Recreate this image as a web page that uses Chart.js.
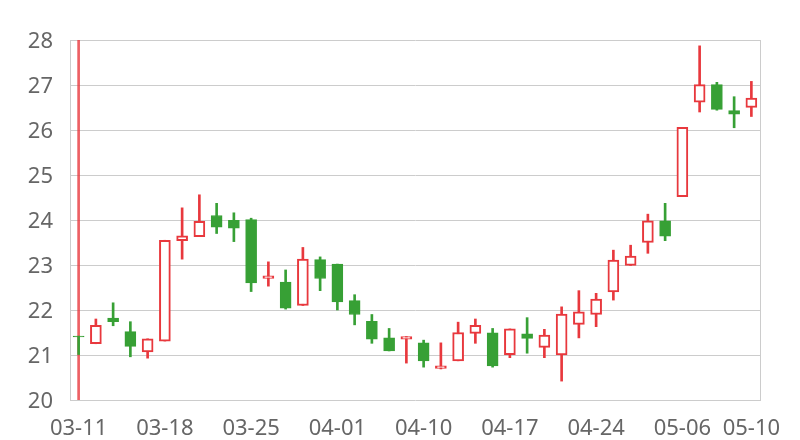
<!DOCTYPE html>
<html>
<head>
<meta charset="utf-8">
<script src="https://cdn.jsdelivr.net/npm/chart.js@4"></script>
<style>
  html, body { margin: 0; padding: 0; background: #fff; }
  #wrap { width: 800px; height: 440px; }
</style>
</head>
<body>
<div id="wrap"><canvas id="kline"></canvas></div>
<script>
var dates = [
    '03-11', '03-12', '03-13', '03-14', '03-15', '03-18', '03-19', '03-20', '03-21', '03-22',
    '03-25', '03-26', '03-27', '03-28', '03-29', '04-01', '04-02', '04-03', '04-08', '04-09',
    '04-10', '04-11', '04-12', '04-15', '04-16', '04-17', '04-18', '04-19', '04-22', '04-23',
    '04-24', '04-25', '04-26', '04-29', '04-30', '05-06', '05-07', '05-08', '05-09', '05-10'
];
var openValues = [
    21.42, 21.25, 21.82, 21.52, 21.07, 21.31, 23.54, 23.63, 24.10, 23.99,
    24.01, 22.70, 22.62, 22.10, 23.12, 23.02, 22.21, 21.75, 21.38, 21.35,
    21.27, 20.70, 20.87, 21.48, 21.49, 21.01, 21.47, 21.17, 21.00, 21.68,
    21.90, 22.40, 22.99, 23.50, 23.98, 24.52, 26.62, 27.01, 26.43, 26.50
];
var closeValues = [
    21.40, 21.66, 21.74, 21.19, 21.36, 23.55, 23.65, 23.97, 23.84, 23.82,
    22.60, 22.76, 22.04, 23.13, 22.70, 22.18, 21.90, 21.35, 21.09, 21.41,
    20.87, 20.76, 21.50, 21.66, 20.76, 21.58, 21.37, 21.44, 21.91, 21.96,
    22.24, 23.11, 23.20, 23.98, 23.64, 26.06, 27.01, 26.46, 26.35, 26.71
];
var lowValues = [
    21.01, 21.25, 21.65, 20.96, 20.93, 21.31, 23.13, 23.63, 23.70, 23.52,
    22.41, 22.53, 22.02, 22.10, 22.43, 22.00, 21.67, 21.26, 21.09, 20.82,
    20.73, 20.69, 20.87, 21.26, 20.73, 20.94, 21.04, 20.94, 20.42, 21.38,
    21.63, 22.22, 22.99, 23.26, 23.54, 24.52, 26.40, 26.44, 26.05, 26.30
];
var highValues = [
    21.42, 21.80, 22.16, 21.74, 21.36, 23.55, 24.27, 24.56, 24.37, 24.16,
    24.04, 23.07, 22.89, 23.39, 23.18, 23.02, 22.34, 21.90, 21.59, 21.41,
    21.33, 21.27, 21.73, 21.80, 21.59, 21.58, 21.83, 21.57, 22.07, 22.43,
    22.37, 23.33, 23.44, 24.13, 24.37, 26.06, 27.87, 27.06, 26.74, 27.08
];
// full-height marker on the first day
var markRange = [20, 28];
var shownTicks = ['03-11', '03-18', '03-25', '04-01', '04-10', '04-17', '04-24', '05-06', '05-10'];

var UP = '#e8383d';
var DOWN = '#37a035';

var bodies = [], wicks = [], bodyFill = [], bodyBorder = [], bodyBorderWidth = [];
for (var i = 0; i < dates.length; i++) {
    var up = closeValues[i] > openValues[i];
    bodies.push([Math.min(openValues[i], closeValues[i]), Math.max(openValues[i], closeValues[i])]);
    wicks.push([lowValues[i], highValues[i]]);
    bodyFill.push(up ? '#ffffff' : DOWN);
    bodyBorder.push(up ? UP : DOWN);
    bodyBorderWidth.push(up ? 2 : 1);
}
var wickColors = bodyBorder.slice();

var font = { family: '"Noto Sans", "Open Sans", sans-serif', size: 22 };

new Chart(document.getElementById('kline'), {
    type: 'bar',
    data: {
        labels: dates,
        datasets: [{
            label: 'body',
            data: bodies,
            grouped: false,
            barThickness: 11,
            backgroundColor: bodyFill,
            borderColor: bodyBorder,
            borderWidth: bodyBorderWidth,
            borderSkipped: false
        }, {
            label: 'wick',
            data: wicks,
            grouped: false,
            barThickness: 2,
            backgroundColor: wickColors,
            borderWidth: 0
        }, {
            label: 'mark',
            data: [markRange],
            grouped: false,
            barThickness: 2,
            backgroundColor: 'rgba(232, 56, 61, 0.8)',
            borderWidth: 0
        }]
    },
    options: {
        responsive: true,
        maintainAspectRatio: false,
        animation: false,
        layout: { padding: { top: 40, right: 40, left: 0, bottom: 0 } },
        plugins: {
            legend: { display: false },
            tooltip: { enabled: false }
        },
        scales: {
            x: {
                offset: true,
                grid: { display: false },
                border: { display: false },
                afterFit: function (scale) { scale.height = 40; },
                ticks: {
                    autoSkip: false,
                    maxRotation: 0,
                    minRotation: 0,
                    padding: 8,
                    color: '#666',
                    font: font,
                    callback: function (value) {
                        var lbl = this.getLabelForValue(value);
                        return shownTicks.indexOf(lbl) >= 0 ? lbl : '';
                    }
                }
            },
            y: {
                min: 20,
                max: 28,
                afterFit: function (scale) { scale.width = 70; },
                grid: { color: '#cccccc', drawTicks: false },
                border: { color: '#cccccc' },
                ticks: { stepSize: 1, padding: 17, labelOffset: 2, color: '#666', font: font }
            },
            yRight: {
                position: 'right',
                min: 20,
                max: 28,
                afterFit: function (scale) { scale.width = 0; },
                grid: { display: false },
                border: { color: '#cccccc' },
                ticks: { display: false }
            }
        }
    }
});
</script>
</body>
</html>
